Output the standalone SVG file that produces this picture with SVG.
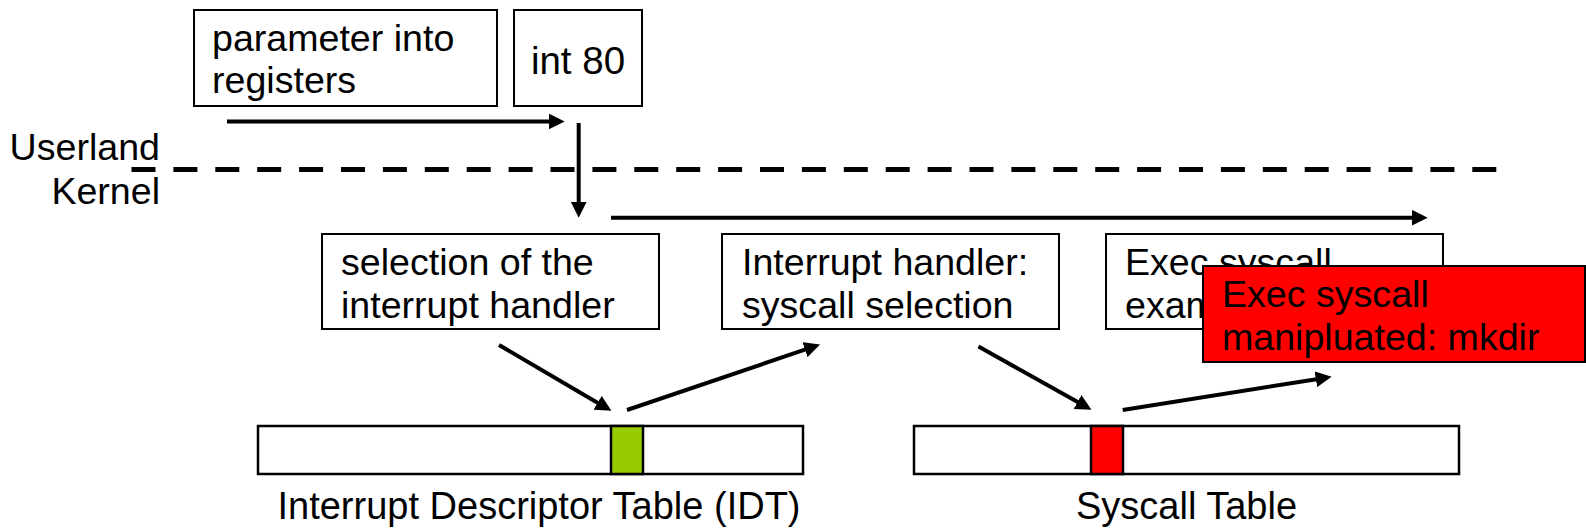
<svg xmlns="http://www.w3.org/2000/svg" width="1586" height="529" viewBox="0 0 1586 529">
<style>
text{font-family:"Liberation Sans",Arial,sans-serif;font-size:37.6px;fill:#000}
.lbl{font-size:38px;text-anchor:middle}
.box{fill:#fff;stroke:#000;stroke-width:2}
.bar{fill:#fff;stroke:#000;stroke-width:2.5}
.arr{fill:none;stroke:#000;stroke-width:4;marker-end:url(#ah)}
.end{text-anchor:end}
</style>
<defs>
<marker id="ah" markerUnits="userSpaceOnUse" markerWidth="16" markerHeight="16" viewBox="0 0 14 14" refX="2" refY="7" orient="auto">
<path d="M0,0 L14,7 L0,14 z" fill="#000"/>
</marker>
</defs>
<rect width="1586" height="529" fill="#fff"/>
<g id="params">
<rect class="box" x="194" y="10" width="303" height="96"/>
<text x="212" y="51">parameter into</text>
<text x="212" y="93">registers</text>
</g>
<g id="int80">
<rect class="box" x="514" y="10" width="128" height="96"/>
<text x="578" y="74" text-anchor="middle" style="font-size:38.5px">int 80</text>
</g>
<g id="labels">
<text class="end" x="160" y="160">Userland</text>
<text class="end" x="160" y="204">Kernel</text>
<line x1="131.5" y1="169.5" x2="1497" y2="169.5" stroke="#000" stroke-width="5" stroke-dasharray="24 17.9"/>
</g>
<g id="selection">
<rect class="box" x="322" y="234" width="337" height="95"/>
<text x="341" y="275">selection of the</text>
<text x="341" y="318">interrupt handler</text>
</g>
<g id="handler">
<rect class="box" x="722" y="234" width="337" height="95"/>
<text x="742" y="275">Interrupt handler:</text>
<text x="742" y="318">syscall selection</text>
</g>
<g id="exec">
<rect class="box" x="1106" y="234" width="337" height="95"/>
<text x="1125" y="275">Exec syscall</text>
<text x="1125" y="318">example</text>
</g>
<g id="manipulated">
<rect x="1203" y="266" width="382" height="96" fill="#ff0000" stroke="#000" stroke-width="2"/>
<text x="1222" y="307">Exec syscall</text>
<text x="1222" y="350">manipluated: mkdir</text>
</g>
<g id="idt">
<rect class="bar" x="258" y="426" width="545" height="48"/>
<rect x="611" y="426" width="32" height="48" fill="#99cc00" stroke="#000" stroke-width="2.5"/>
<text class="lbl" x="539" y="519">Interrupt Descriptor Table (IDT)</text>
</g>
<g id="syscalltable">
<rect class="bar" x="914" y="426" width="545" height="48"/>
<rect x="1091" y="426" width="32" height="48" fill="#ff0000" stroke="#000" stroke-width="2.5"/>
<text class="lbl" x="1186.5" y="519">Syscall Table</text>
</g>
<g id="connectors">
<line class="arr" x1="227" y1="121.5" x2="551" y2="121.5"/>
<line class="arr" x1="578.7" y1="123" x2="578.7" y2="204"/>
<line class="arr" x1="611" y1="217.7" x2="1414" y2="217.7"/>
<line class="arr" x1="499" y1="345" x2="599.6" y2="403.9"/>
<line class="arr" x1="627" y1="410" x2="807.1" y2="348.9"/>
<line class="arr" x1="978.5" y1="346.5" x2="1079.5" y2="403.1"/>
<line class="arr" x1="1122.7" y1="410" x2="1318.1" y2="378.9"/>
</g>
</svg>
